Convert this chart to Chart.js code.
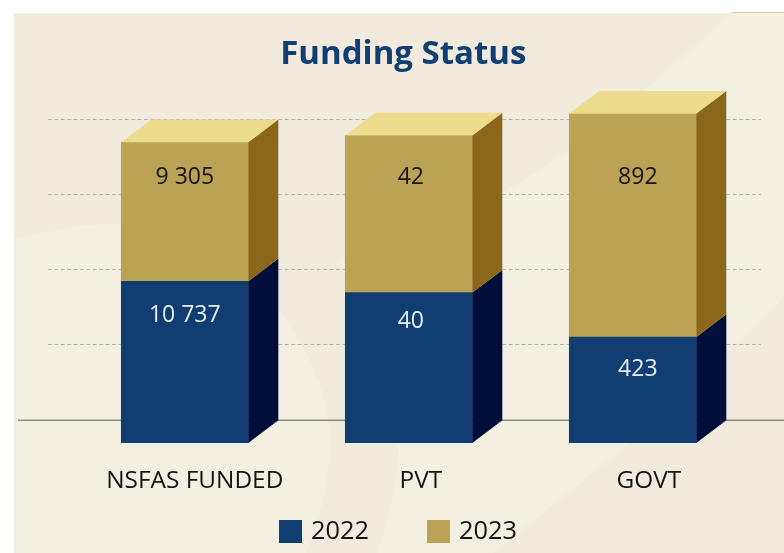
<!DOCTYPE html>
<html>
<head>
<meta charset="utf-8">
<style>html,body{margin:0;padding:0;background:#fff}canvas{display:block}</style>
<script src="https://cdn.jsdelivr.net/npm/chart.js@4/dist/chart.umd.min.js"></script>
</head>
<body>
<canvas id="c" width="784" height="553"></canvas>
<script>
const categories = ["NSFAS FUNDED", "PVT", "GOVT"];
const seriesNames = ["2022", "2023"];
// printed values
const printed2022 = ["10 737", "40", "423"];
const printed2023 = ["9 305", "42", "892"];
// bar heights as drawn, read against the gridlines (gridline step = 1)
const heights2022 = [2.15, 2.00, 1.41];
const heights2023 = [1.85, 2.09, 2.97];
const gridValues = [1, 2, 3, 4];

const FONT = '"Open Sans", sans-serif';
const DEPTH_X = 30, DEPTH_Y = 22.7;
const faces = [
  {front:"#103E73", side:"#000F3A", ink:"#E8EEF5", drop:[34,29,32]},
  {front:"#BCA255", side:"#8B671B", top:"#EDDC8D", ink:"#141414", drop:[35,42,64]}
];
const labelShift = [0, 2, 5];
const tickShift = [10, 12, 16];

function poly(ctx, pts, fill){
  ctx.beginPath();
  pts.forEach((p,i)=> i?ctx.lineTo(p[0],p[1]):ctx.moveTo(p[0],p[1]));
  ctx.closePath(); ctx.fillStyle = fill; ctx.fill();
}
const scene = {
  id:"scene",
  afterLayout(chart){
    chart.titleBlock.left -= 5.5; chart.titleBlock.right -= 5.5;
    chart.legend.left = 221.1; chart.legend.top = 457.2;
  },
  beforeDraw(chart){
    const ctx = chart.ctx;
    chart.scales.x.getLabelItems().forEach((it,i)=>{
      if(!it.moved){ it.options.translation[0] += tickShift[i]; it.moved = true; }
    });
    ctx.save();
    ctx.fillStyle="#F1EBDE"; ctx.fillRect(14,13,770,540);
    ctx.fillStyle="#F3EFE1";
    // left swoosh
    ctx.beginPath(); ctx.moveTo(14,240);
    ctx.bezierCurveTo(60,226,100,223,125,224);
    ctx.bezierCurveTo(200,228,255,275,285,318);
    ctx.bezierCurveTo(315,362,331,405,330,445);
    ctx.bezierCurveTo(329,485,320,520,305,553);
    ctx.lineTo(14,553); ctx.closePath(); ctx.fill();
    // right swoosh
    ctx.beginPath(); ctx.moveTo(335,262);
    ctx.bezierCurveTo(400,240,460,218,503,192);
    ctx.bezierCurveTo(590,140,660,80,730,13);
    ctx.lineTo(784,13); ctx.lineTo(784,297);
    ctx.bezierCurveTo(720,365,620,455,492,553);
    ctx.lineTo(377,553);
    ctx.bezierCurveTo(392,510,400,470,398,440);
    ctx.bezierCurveTo(396,370,370,300,335,262);
    ctx.closePath(); ctx.fill();
    ctx.fillStyle="#E0CB90"; ctx.fillRect(731,12,53,1);
    ctx.restore();
  },
  beforeDatasetsDraw(chart){
    const ctx = chart.ctx, y = chart.scales.y;
    ctx.save();
    ctx.strokeStyle="#B4B4AE"; ctx.lineWidth=1; ctx.setLineDash([4,2.4]);
    gridValues.forEach(v=>{
      const py = Math.round(y.getPixelForValue(v)-DEPTH_Y)-0.5;
      ctx.beginPath(); ctx.moveTo(48,py); ctx.lineTo(761,py); ctx.stroke();
    });
    ctx.setLineDash([]); ctx.strokeStyle="#8C8C8C"; ctx.lineWidth=1.5;
    const py0 = y.getPixelForValue(0)-DEPTH_Y;
    ctx.beginPath(); ctx.moveTo(18,py0); ctx.lineTo(784,py0); ctx.stroke();
    ctx.restore();
  },
  afterDatasetsDraw(chart){
    const ctx = chart.ctx;
    ctx.save();
    faces.forEach((f,d)=>{
      chart.getDatasetMeta(d).data.forEach(b=>{
        const r = b.x+b.width/2, l = b.x-b.width/2;
        poly(ctx,[[r,b.y],[r+DEPTH_X,b.y-DEPTH_Y],[r+DEPTH_X,b.base-DEPTH_Y],[r,b.base]],f.side);
        if(f.top) poly(ctx,[[l,b.y],[l+DEPTH_X,b.y-DEPTH_Y],[r+DEPTH_X,b.y-DEPTH_Y],[r,b.y]],f.top);
      });
    });
    ctx.font = "23px "+FONT; ctx.textAlign="center"; ctx.textBaseline="middle";
    [printed2022, printed2023].forEach((txt,d)=>{
      ctx.fillStyle = faces[d].ink;
      chart.getDatasetMeta(d).data.forEach((b,i)=>{
        ctx.fillText(txt[i], b.x+labelShift[i], b.y+faces[d].drop[i]);
      });
    });
    ctx.restore();
  }
};

new Chart(document.getElementById("c"),{
  type:"bar",
  data:{
    labels:categories,
    datasets:[
      {label:seriesNames[0], data:heights2022, backgroundColor:faces[0].front, barThickness:127, borderWidth:0},
      {label:seriesNames[1], data:heights2023, backgroundColor:faces[1].front, barThickness:127, borderWidth:0}
    ]
  },
  options:{
    responsive:false, animation:false,
    layout:{padding:{left:72.8,right:39.2,top:0,bottom:0}},
    scales:{
      x:{stacked:true, offset:true,
        grid:{display:false,drawTicks:false}, border:{display:false},
        afterFit(s){ s.height = 67; },
        ticks:{padding:23.4,color:"#141414",autoSkip:false,maxRotation:0,font:{family:FONT,size:24.4}}},
      y:{stacked:true,display:false,min:0,max:4.5}
    },
    plugins:{
      tooltip:{enabled:false},
      title:{display:true,text:"Funding Status",color:"#113F75",
        font:{family:FONT,size:33,weight:"bold",lineHeight:1.2},padding:{top:35.2,bottom:29.8}},
      legend:{display:true,position:"bottom",align:"start",maxHeight:43,
        labels:{color:"#141414",font:{family:FONT,size:25.4,lineHeight:1.36},boxWidth:15.6,boxHeight:15.6,padding:61.6,
          generateLabels(chart){
            return chart.data.datasets.map((ds,i)=>({text:ds.label,fillStyle:ds.backgroundColor,
              strokeStyle:ds.backgroundColor,lineWidth:7.4,fontColor:"#141414",datasetIndex:i,hidden:false}));
          }}}
    }
  },
  plugins:[scene]
});
</script>
</body>
</html>
